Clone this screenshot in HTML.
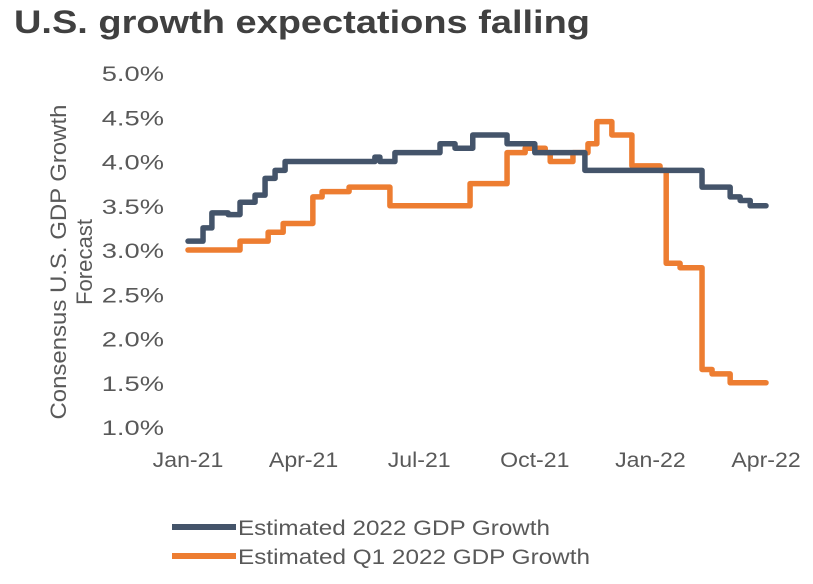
<!DOCTYPE html>
<html><head><meta charset="utf-8"><style>
body{margin:0;background:#fff;width:813px;height:579px;overflow:hidden;font-family:"Liberation Sans",sans-serif}
</style></head><body>
<svg width="813" height="579">
<text x="14" y="33" font-size="32" font-weight="bold" fill="#404040" textLength="576" lengthAdjust="spacingAndGlyphs">U.S. growth expectations falling</text>
<g id="yt"></g>
<g id="xt"></g>
<g transform="translate(72,262) rotate(-90)" font-size="22" fill="#595959" text-anchor="middle">
<text x="0" y="-6" textLength="315" lengthAdjust="spacingAndGlyphs">Consensus U.S. GDP Growth</text><text x="0" y="20" textLength="86" lengthAdjust="spacingAndGlyphs">Forecast</text></g>
<g id="series"></g>
<g>
<line x1="172" y1="527" x2="236" y2="527" stroke="#44546a" stroke-width="6"/>
<text x="238" y="535" font-size="21" fill="#595959" textLength="312" lengthAdjust="spacingAndGlyphs">Estimated 2022 GDP Growth</text>
<line x1="172" y1="556" x2="236" y2="556" stroke="#ed7d31" stroke-width="6"/>
<text x="238" y="564" font-size="21" fill="#595959" textLength="352" lengthAdjust="spacingAndGlyphs">Estimated Q1 2022 GDP Growth</text>
</g>
</svg>
<script>
const yTicks=[1.0,1.5,2.0,2.5,3.0,3.5,4.0,4.5,5.0];
const xLabels=["Jan-21","Apr-21","Jul-21","Oct-21","Jan-22","Apr-22"];
const xLabelMonths=[0,3,6,9,12,15];
const navyMonths=[0,0.39,0.62,1.04,1.35,1.74,2.0,2.26,2.52,4.85,4.98,5.37,6.54,6.93,7.39,8.28,9.0,10.3,13.34,14.07,14.33,14.59,15];
const navyValues=[3.1,3.25,3.42,3.40,3.54,3.62,3.81,3.9,4.0,4.05,4.0,4.1,4.2,4.15,4.3,4.2,4.1,3.9,3.71,3.6,3.56,3.5,3.5];
const orangeMonths=[0,1.35,2.08,2.47,3.24,3.48,4.18,5.24,7.32,8.28,8.75,9.27,9.4,9.99,10.38,10.61,11.0,11.52,12.25,12.41,12.77,13.34,13.6,14.07,15];
const orangeValues=[3.0,3.1,3.2,3.3,3.6,3.66,3.71,3.5,3.75,4.1,4.15,4.1,4.0,4.1,4.2,4.45,4.3,3.95,3.9,2.85,2.8,1.65,1.6,1.5,1.5];
const NS="http://www.w3.org/2000/svg";
const xs=m=>188+m*(578/15);
const ys=v=>427-(v-1)*88.5;
const yt=document.getElementById('yt'),xt=document.getElementById('xt'),sg=document.getElementById('series');
function widen(t,f){const w=t.getComputedTextLength();t.setAttribute('textLength',w*f);t.setAttribute('lengthAdjust','spacingAndGlyphs');}
yTicks.forEach(v=>{const t=document.createElementNS(NS,'text');


t.setAttribute('x',164);t.setAttribute('y',ys(v)+8);t.setAttribute('text-anchor','end');t.setAttribute('font-size','21');t.setAttribute('fill','#595959');
t.textContent=v.toFixed(1)+'%';yt.appendChild(t);widen(t,1.3);});
xLabels.forEach((l,i)=>{const t=document.createElementNS(NS,'text');


t.setAttribute('x',xs(xLabelMonths[i]));t.setAttribute('y',467);t.setAttribute('text-anchor','middle');t.setAttribute('font-size','21');t.setAttribute('fill','#595959');
t.textContent=l;xt.appendChild(t);widen(t,1.1);});
function step(ms,vs,color,name){let d='M'+xs(ms[0])+' '+ys(vs[0]);
for(let i=1;i<ms.length;i++){d+=' H'+xs(ms[i])+' V'+ys(vs[i]);}
const p=document.createElementNS(NS,'path');


p.setAttribute('d',d);p.setAttribute('fill','none');p.setAttribute('stroke',color);p.setAttribute('stroke-width','5.5');p.setAttribute('stroke-linejoin','round');p.setAttribute('stroke-linecap','round');
sg.appendChild(p);}
step(orangeMonths,orangeValues,'#ed7d31','series-q1-2022');
step(navyMonths,navyValues,'#44546a','series-2022');
</script>
</body></html>
